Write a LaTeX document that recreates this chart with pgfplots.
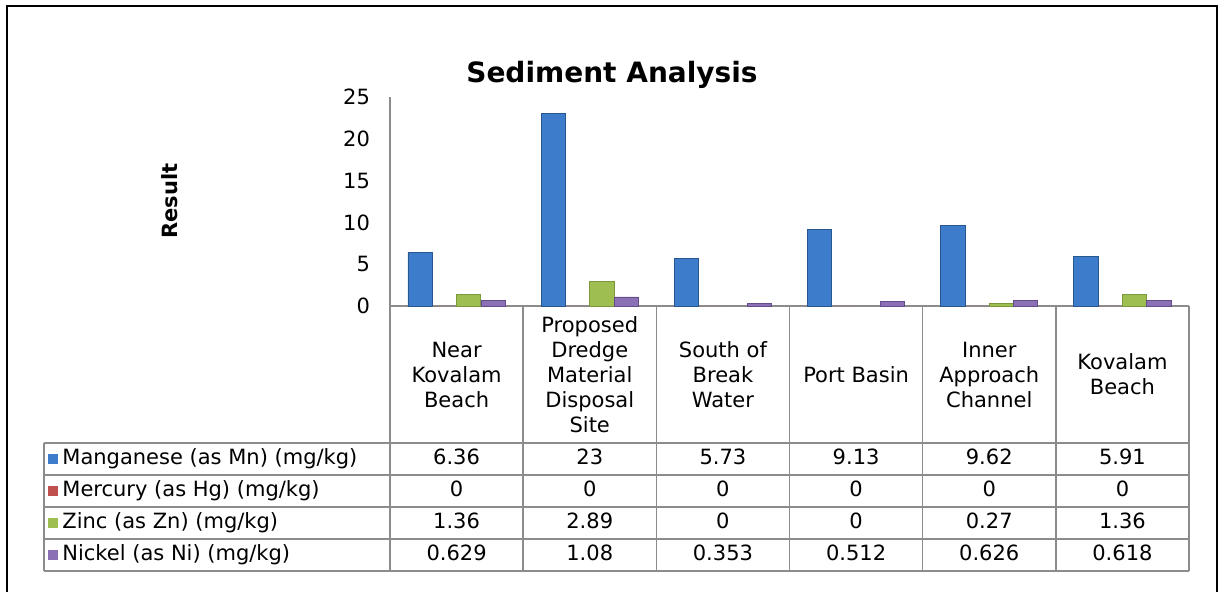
\documentclass[border=0pt]{standalone}
\usepackage{pgfplots}
\pgfplotsset{compat=1.18}
\usepackage{pgfplotstable}
\usepackage{fontspec}
\setmainfont{DejaVu Sans}

\definecolor{mnF}{HTML}{3C7CCA}
\definecolor{mnD}{HTML}{28578F}
\definecolor{hgF}{HTML}{C0504D}
\definecolor{znF}{HTML}{9EBE52}
\definecolor{znD}{HTML}{7C983C}
\definecolor{niF}{HTML}{8C70B6}
\definecolor{niD}{HTML}{654C8A}
\definecolor{gridgray}{HTML}{8C8C8C}

% values per sampling site
\pgfplotstableread{
x Mn Hg Zn Ni
0 6.36 0 1.36 0.629
1 23 0 2.89 1.08
2 5.73 0 0 0.353
3 9.13 0 0 0.512
4 9.62 0 0.27 0.626
5 5.91 0 1.36 0.618
}\sediment

\newcommand{\bodyfont}{\fontsize{10.5}{12.5}\selectfont}

\begin{document}
\begin{tikzpicture}
\begin{axis}[
  at={(195pt,-153pt)}, anchor=south west,
  scale only axis, width=399.5pt, height=104.5pt,
  xmin=-0.5, xmax=5.5, ymin=0, ymax=25,
  ytick={0,5,...,25},
  xtick={0,...,5},
  xticklabels={{Near\\Kovalam\\Beach},{Proposed\\Dredge\\Material\\Disposal\\Site},{South of\\Break\\Water},{Port Basin},{Inner\\Approach\\Channel},{Kovalam\\Beach}},
  x tick label style={align=center, anchor=center, yshift=-34.25pt, font=\bodyfont},
  yticklabel style={font=\bodyfont, xshift=-6.5pt},
  /pgf/number format/assume math mode=true,
  axis lines*=left,
  axis line style={draw=gridgray, line width=0.8pt},
  major tick length=0pt,
  ybar, bar width=0.1825,
  clip=false,
]
\addplot[draw=mnD, line width=0.4pt, fill=mnF, bar shift=-0.274]
  table[x=x, y=Mn] {\sediment};
\addplot[draw=none, fill=hgF, bar shift=-0.091]
  table[x=x, y=Hg] {\sediment};
\addplot[draw=znD, line width=0.4pt, fill=znF, bar shift=0.091,
  y filter/.expression={y==0 ? nan : y}]
  table[x=x, y=Zn] {\sediment};
\addplot[draw=niD, line width=0.4pt, fill=niF, bar shift=0.274,
  y filter/.expression={y==0 ? nan : y}]
  table[x=x, y=Ni] {\sediment};
\end{axis}

\begin{scope}[x=0.5pt, y=-0.5pt]
  \useasboundingbox (0,0) rectangle (1223,591);
  \draw[line width=1.4pt] (7,640) -- (7,6) -- (1217,6) -- (1217,640);
  \node[font=\bfseries\fontsize{14}{17}\selectfont] at (612,75) {Sediment Analysis};
  \node[rotate=90, font=\bfseries\bodyfont] at (170,201) {Result};

  % data table grid
  \begin{scope}[draw=gridgray, line width=0.8pt]
    \foreach \k in {0,...,6}
      \draw ({390+133.17*\k},306) -- ({390+133.17*\k},571);
    \draw (44,443) -- (44,571);
    \foreach \yy in {443,475,507,539,571}
      \draw (44,\yy) -- (1189,\yy);
  \end{scope}

  \foreach \c/\lab/\col [count=\i] in {
      Mn/{Manganese (as Mn) (mg/kg)}/mnF,
      Hg/{Mercury (as Hg) (mg/kg)}/hgF,
      Zn/{Zinc (as Zn) (mg/kg)}/znF,
      Ni/{Nickel (as Ni) (mg/kg)}/niF} {
    \fill[\col] (48,{427+32*\i-5}) rectangle (58,{427+32*\i+5});
    \node[anchor=west, inner sep=0pt, font=\bodyfont] at (62,{427+32*\i}) {\strut\lab};
    \foreach \r in {0,...,5} {
      \pgfplotstablegetelem{\r}{\c}\of\sediment
      \node[font=\bodyfont, inner sep=0pt] at ({390+133.17*(\r+0.5)},{427+32*\i}) {\strut\pgfplotsretval};
    }
  }
\end{scope}
\end{tikzpicture}
\end{document}
